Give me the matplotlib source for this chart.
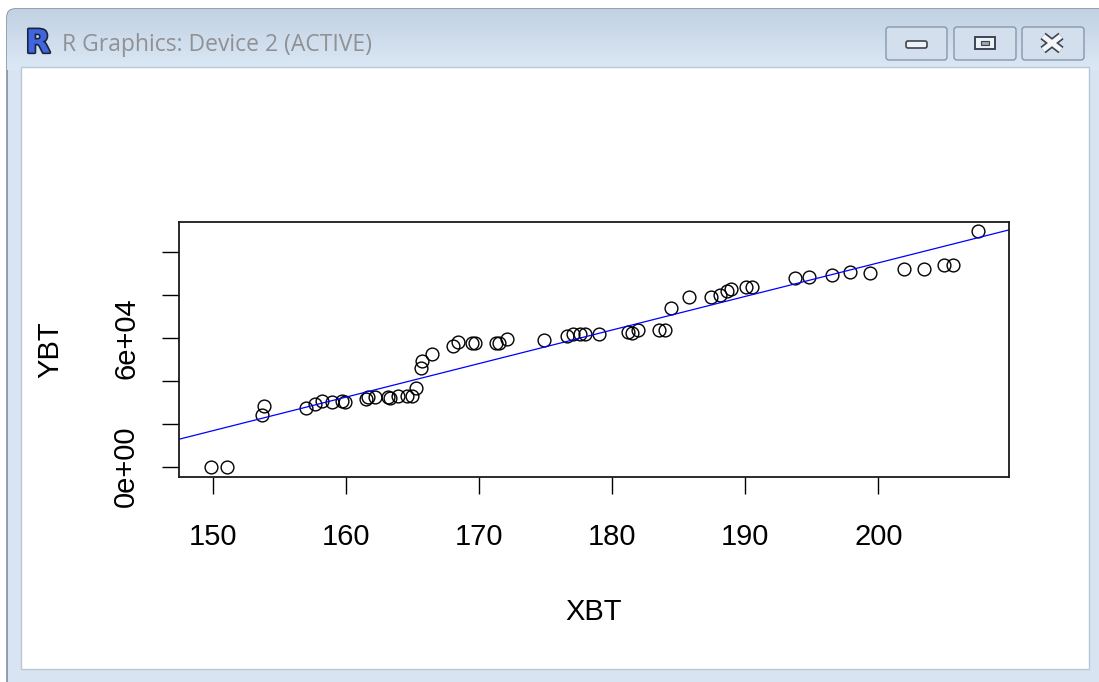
import matplotlib.pyplot as plt
import numpy as np
import matplotlib.patheffects as pe
from matplotlib.patches import FancyBboxPatch, Rectangle

# observations
XBT = [149.80, 151.05, 153.64, 153.81, 156.97, 157.65, 158.15, 158.90, 159.65,
       159.90, 161.46, 161.63, 162.16, 163.16, 163.29, 163.91, 164.54, 164.92,
       165.24, 165.59, 165.71, 166.47, 168.05, 168.42, 169.45, 169.68, 171.26,
       171.48, 172.11, 174.89, 176.57, 177.05, 177.57, 177.95, 179.00, 181.20,
       181.46, 181.95, 183.53, 183.96, 184.41, 185.79, 187.42, 188.10, 188.62,
       188.92, 190.03, 190.48, 193.74, 194.81, 196.50, 197.87, 199.38, 201.93,
       203.44, 204.94, 205.59, 207.52]
YBT = [0, 0, 24050, 28230, 27440, 29160, 30700, 30230, 30700,
       30230, 31350, 32190, 32280, 32280, 31950, 33020, 33020, 33020,
       36740, 45770, 49300, 52420, 56140, 58140, 57670, 57670, 57670,
       57670, 59250, 58930, 60790, 61720, 61490, 61490, 61490, 62650,
       62320, 63350, 63580, 63580, 73670, 79070, 79070, 79860, 81490,
       82650, 83720, 83720, 87630, 88370, 89160, 90420, 89950, 91950,
       91950, 93810, 93810, 109620]

# abline(lm(YBT ~ XBT))
intercept = -217200
slope = 1560

x_ticks = [150, 160, 170, 180, 190, 200]
y_ticks = [0, 20000, 40000, 60000, 80000, 100000]
y_tick_labels = ['0e+00', '', '', '6e+04', '', '']

W, H = 1099, 682
fig = plt.figure(figsize=(W / 100, H / 100), dpi=100)
fig.patch.set_facecolor('white')

# window frame, in pixel coordinates
win = fig.add_axes([0, 0, 1, 1])
win.set_xlim(0, W)
win.set_ylim(H, 0)
win.axis('off')

frame = FancyBboxPatch((7, 9), W + 10, H + 10,
                       boxstyle='round,pad=0,rounding_size=8',
                       fc='#d8e4f1', ec='#6d7c8e', lw=1.0)
win.add_patch(frame)
grad = np.linspace(0, 1, 64)[:, None, None]
top = np.array([0.76, 0.82, 0.89])
bot = np.array([0.86, 0.91, 0.96])
img = win.imshow(top + (bot - top) * grad, extent=(7, W + 10, 70, 9),
                 aspect='auto', zorder=1)
img.set_clip_path(frame)
win.add_patch(Rectangle((21, 67), 1068, 602, fc='white', ec='#b9c7d6',
                        lw=1.0, zorder=2))

# title bar: icon and caption
win.text(38, 44, 'R', fontsize=23, fontweight='bold',
         color='#3f66e0', ha='center', va='center', zorder=3,
         family='DejaVu Sans',
         path_effects=[pe.withStroke(linewidth=2.4, foreground='#1b2438')])
win.text(62, 45, 'R Graphics: Device 2 (ACTIVE)', fontsize=16.5,
         family='Open Sans', color='#8f9195', ha='left', va='center',
         zorder=3)

# caption buttons
for x0, x1 in [(886, 947), (954, 1016), (1022, 1084)]:
    win.add_patch(FancyBboxPatch((x0, 27), x1 - x0, 33,
                                 boxstyle='round,pad=0,rounding_size=3',
                                 fc='#d3dfec', ec='#8797ab', lw=1.0, zorder=3))
win.add_patch(FancyBboxPatch((906, 41), 21, 7,
                             boxstyle='round,pad=0,rounding_size=2',
                             fc='#eef2f6', ec='#3c4552', lw=1.2, zorder=4))
win.add_patch(Rectangle((975, 37), 20, 12, fc='#eef2f6', ec='#3c4552',
                        lw=1.4, zorder=4))
win.add_patch(Rectangle((981, 41), 8, 4, fc='#9aa7b7', ec='#3c4552',
                        lw=0.8, zorder=5))
cross = [((1043, 1061), (36, 50)), ((1043, 1061), (50, 36))]
for xs, ys in cross:
    win.plot(xs, ys, color='#3c4552', lw=6.0, solid_capstyle='butt', zorder=5)
for xs, ys in cross:
    win.plot(xs, ys, color='#f4f6f9', lw=3.6, solid_capstyle='butt', zorder=6)

# the plot itself
ax = fig.add_axes([179 / W, 1 - 476.7 / H, 830 / W, 254.7 / H])
ax.set_zorder(5)
ax.plot(XBT, YBT, 'o', ms=9.2, mfc='none', mec='black', mew=1.0)
ax.axline((0, intercept), slope=slope, color='blue', lw=0.9)
ax.set_xlim(147.42, 209.83)
ax.set_ylim(-4650, 113810)

for s in ax.spines.values():
    s.set_linewidth(1.3)
    s.set_color('#1a1a1a')

lab_font = 'Liberation Sans'
ax.set_xticks(x_ticks)
ax.set_xticklabels([str(v) for v in x_ticks], family=lab_font, fontsize=21)
ax.set_yticks(y_ticks)
ax.set_yticklabels(y_tick_labels, family=lab_font, fontsize=21,
                   rotation=90, va='center')
ax.tick_params(direction='out', length=12.5, width=1.0)
ax.tick_params(axis='x', pad=21)
ax.tick_params(axis='y', pad=15.5)
ax.set_xlabel('XBT', family=lab_font, fontsize=21, va='center')
ax.set_ylabel('YBT', family=lab_font, fontsize=21, va='center')
ax.xaxis.set_label_coords(0.5, (476.7 - 612) / 254.7)
ax.yaxis.set_label_coords((50 - 179) / 830, 0.5)

fig.savefig('out.png', dpi=100)
